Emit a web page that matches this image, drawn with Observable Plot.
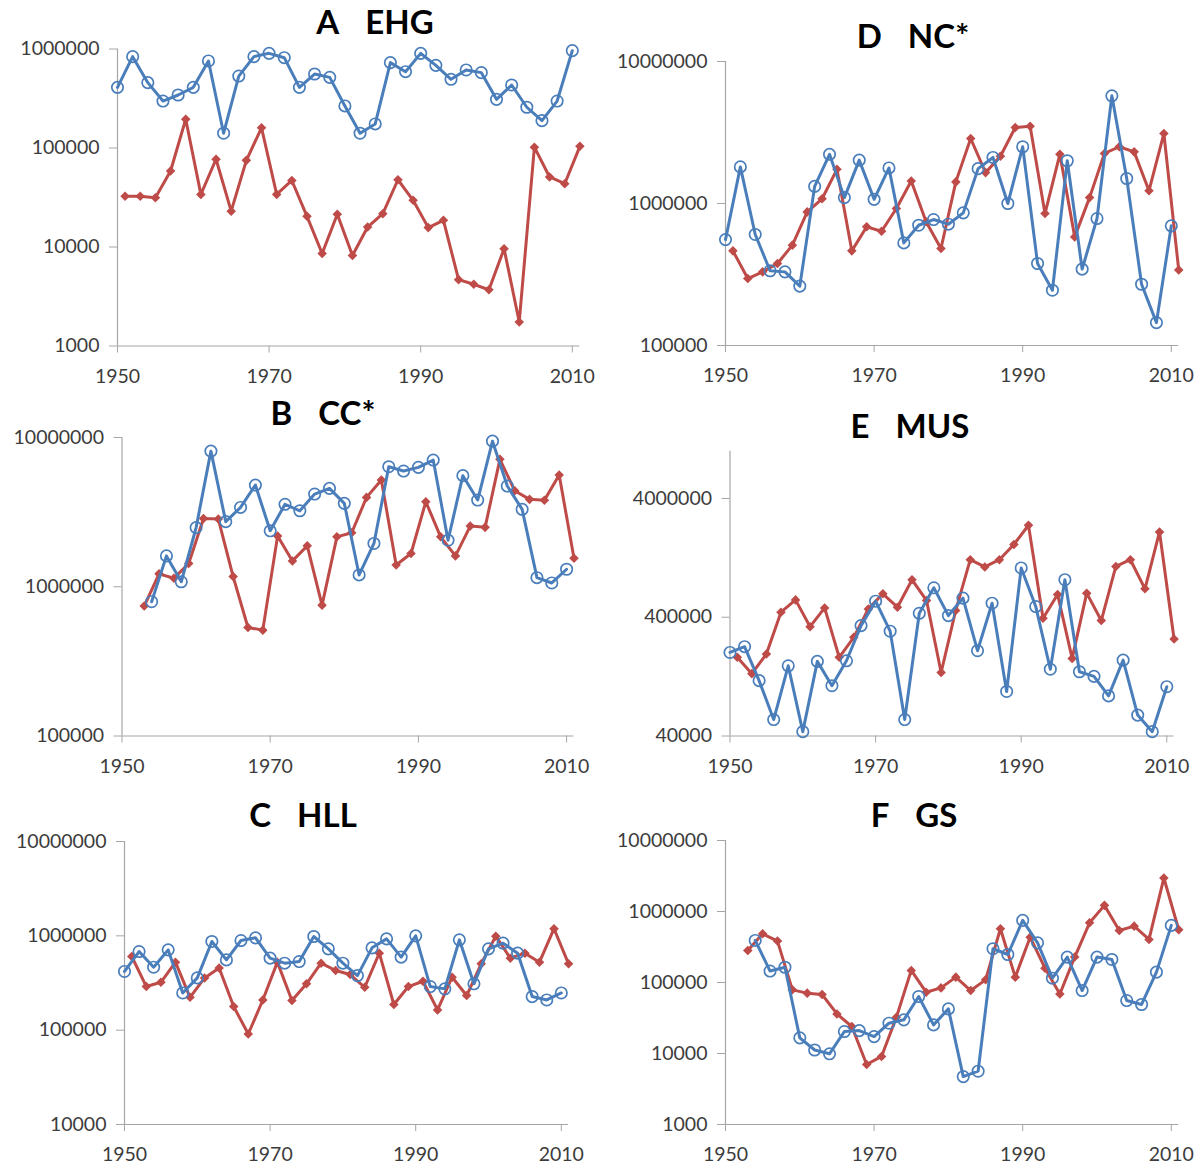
<!DOCTYPE html>
<html>
<head>
<meta charset="utf-8">
<script src="https://cdn.jsdelivr.net/npm/d3@7"></script>
<script src="https://cdn.jsdelivr.net/npm/@observablehq/plot@0.6"></script>
<style>
  body { margin: 0; background: #fff; }
  #chart { position: relative; width: 1200px; height: 1165px; overflow: hidden; background: #fff; font-family: Lato, "Open Sans", sans-serif; }
  .title { position: absolute; font-weight: bold; font-size: 33px; line-height: 1; color: #000; white-space: pre; transform: translateX(-50%); }
  .title .name { margin-left: 26px; }
</style>
</head>
<body>
<div id="chart"></div>
<script>
// Even years carry the blue series, odd years the red one.
const yearsEven1950 = [1950,1952,1954,1956,1958,1960,1962,1964,1966,1968,1970,1972,1974,1976,1978,1980,1982,1984,1986,1988,1990,1992,1994,1996,1998,2000,2002,2004,2006,2008,2010];
const yearsEven1954 = [1954,1956,1958,1960,1962,1964,1966,1968,1970,1972,1974,1976,1978,1980,1982,1984,1986,1988,1990,1992,1994,1996,1998,2000,2002,2004,2006,2008,2010];
const yearsOdd1951 = [1951,1953,1955,1957,1959,1961,1963,1965,1967,1969,1971,1973,1975,1977,1979,1981,1983,1985,1987,1989,1991,1993,1995,1997,1999,2001,2003,2005,2007,2009,2011];
const yearsOdd1953 = [1953,1955,1957,1959,1961,1963,1965,1967,1969,1971,1973,1975,1977,1979,1981,1983,1985,1987,1989,1991,1993,1995,1997,1999,2001,2003,2005,2007,2009,2011];

const xTicks = [1950, 1970, 1990, 2010];

// A  EHG
const ehgBlue = [410000,837000,457000,298000,343000,410000,757000,141000,533000,837000,904000,817000,410000,559000,517000,266000,141000,175000,728000,590000,904000,684000,494000,614000,577000,310000,433000,258000,189000,298000,962000];
const ehgRed = [32500,32500,31500,58600,195000,34000,77000,23000,75000,160000,34000,47000,20400,8600,21400,8200,15900,21700,47800,29600,15700,18600,4680,4200,3700,9600,1750,102000,51000,43600,104000];
const ehgTicks = [1000, 10000, 100000, 1000000];

// B  CC*
const ccBlue = [794000,1610000,1080000,2490000,8100000,2730000,3400000,4800000,2370000,3570000,3230000,4180000,4560000,3620000,1200000,1950000,6370000,5960000,6310000,7060000,2050000,5550000,3810000,9450000,4730000,3300000,1150000,1060000,1310000];
const ccRed = [742000,1220000,1140000,1430000,2870000,2840000,1170000,533000,512000,2190000,1490000,1880000,753000,2160000,2300000,3970000,5190000,1400000,1670000,3710000,2160000,1610000,2550000,2500000,7140000,4400000,3850000,3800000,5610000,1550000];
const ccTicks = [100000, 1000000, 10000000];

// C  HLL
const hllBlue = [419000,682000,465000,710000,248000,358000,871000,556000,892000,952000,580000,513000,534000,984000,728000,513000,379000,746000,929000,594000,1000000,290000,274000,907000,310000,728000,836000,655000,227000,209000,248000];
const hllRed = [604000,290000,322000,526000,223000,358000,457000,178000,91000,209000,526000,206000,310000,513000,429000,389000,285000,655000,187000,290000,330000,164000,364000,233000,505000,992000,580000,655000,526000,1190000,505000];
const hllTicks = [10000, 100000, 1000000, 10000000];

// D  NC*
const ncBlue = [557000,1810000,605000,336000,330000,262000,1320000,2220000,1100000,2020000,1070000,1780000,528000,703000,771000,715000,859000,1760000,2110000,1000000,2510000,378000,245000,2000000,345000,784000,5730000,1500000,270000,145000,696000];
const ncRed = [464000,296000,330000,378000,509000,873000,1080000,1740000,464000,685000,638000,922000,1440000,743000,482000,1420000,2870000,1650000,2150000,3430000,3500000,850000,2220000,582000,1100000,2250000,2510000,2310000,1230000,3110000,340000];
const ncTicks = [100000, 1000000, 10000000];

// E  MUS
const musBlue = [202000,226000,117000,55000,156000,43500,170000,106000,172000,340000,546000,305000,55000,432000,708000,413000,579000,209000,525000,94800,1040000,492000,146000,828000,139000,127000,87000,174000,60000,43500,104000];
const musRed = [184000,134000,196000,441000,560000,333000,479000,184000,271000,470000,630000,486000,828000,553000,137000,455000,1220000,1060000,1220000,1640000,2380000,392000,622000,180000,638000,375000,1070000,1220000,694000,2090000,262000];
const musTicks = [40000, 400000, 4000000];

// F  GS
const gsBlue = [391000,145000,164000,16600,11200,9900,20400,21000,17300,26700,29800,63500,25300,42500,4730,5630,299000,248000,749000,362000,115000,228000,77000,228000,211000,55700,49000,140000,637000];
const gsRed = [283000,485000,383000,78800,70800,67800,36100,24000,7000,9100,32400,148000,73000,84000,119000,77000,109000,571000,119000,435000,159000,69000,228000,693000,1220000,541000,622000,404000,2960000,553000];
const gsTicks = [1000, 10000, 100000, 1000000, 10000000];

const BLUE = "#4a7ebb";
const RED = "#be4b48";
const AXIS = "#a6a6a6";
const LABEL = "#3c3c3c";

// Layout of each panel: column, pixel position of the 1950 axis, pixels per year,
// pixel rows of the top and bottom of the log axis, and the title anchor.
const panels = [
  { letter: "A", name: "EHG", col: 0, x0: 117, ppy: 7.58, yTop: 48.5, yBot: 345.5, yDomain: [1000, 1000000], yTicks: ehgTicks,
    blueYears: yearsEven1950, blue: ehgBlue, redYears: yearsOdd1951, red: ehgRed, titleX: 375, titleY: 10 },
  { letter: "B", name: "CC*", col: 0, x0: 121.5, ppy: 7.41, yTop: 437, yBot: 735.5, yDomain: [100000, 10000000], yTicks: ccTicks,
    blueYears: yearsEven1954, blue: ccBlue, redYears: yearsOdd1953, red: ccRed, titleX: 323, titleY: 401 },
  { letter: "C", name: "HLL", col: 0, x0: 124, ppy: 7.28, yTop: 841, yBot: 1124, yDomain: [10000, 10000000], yTicks: hllTicks,
    blueYears: yearsEven1950, blue: hllBlue, redYears: yearsOdd1951, red: hllRed, titleX: 303, titleY: 803 },
  { letter: "D", name: "NC*", col: 1, x0: 725, ppy: 7.43, yTop: 61, yBot: 345, yDomain: [100000, 10000000], yTicks: ncTicks,
    blueYears: yearsEven1950, blue: ncBlue, redYears: yearsOdd1951, red: ncRed, titleX: 913, titleY: 24 },
  { letter: "E", name: "MUS", col: 1, x0: 729.5, ppy: 7.28, yTop: 450.7, yBot: 735.5, yDomain: [40000, 10000000], yTicks: musTicks,
    blueYears: yearsEven1950, blue: musBlue, redYears: yearsOdd1951, red: musRed, titleX: 910, titleY: 414 },
  { letter: "F", name: "GS", col: 1, x0: 725, ppy: 7.43, yTop: 840, yBot: 1124, yDomain: [1000, 10000000], yTicks: gsTicks,
    blueYears: yearsEven1954, blue: gsBlue, redYears: yearsOdd1953, red: gsRed, titleX: 914, titleY: 803 }
];

const root = document.getElementById("chart");

function drawPanel(p) {
  const svgLeft = p.col * 600;
  const svgTop = Math.round(p.yTop - 20);
  const marginTop = p.yTop - svgTop;
  const marginBottom = 45;
  const height = p.yBot - svgTop + marginBottom;
  const x2011 = p.x0 + 61 * p.ppy;

  const blueRows = p.blueYears.map((year, i) => ({ year, value: p.blue[i] }));
  const redRows = p.redYears.map((year, i) => ({ year, value: p.red[i] }));

  const svg = Plot.plot({
    width: 600,
    height,
    marginLeft: p.x0 - svgLeft,
    marginRight: svgLeft + 600 - x2011,
    marginTop,
    marginBottom,
    style: { fontFamily: "Lato, 'Open Sans', sans-serif", fontSize: "19.5px", background: "transparent", overflow: "visible" },
    x: { domain: [1950, 2011] },
    y: { type: "log", domain: p.yDomain },
    marks: [
      Plot.ruleX([1950], { stroke: AXIS, strokeWidth: 1.2 }),
      Plot.ruleY([p.yDomain[0]], { stroke: AXIS, strokeWidth: 1.2 }),
      Plot.axisX(xTicks, { tickFormat: d => String(d), tickSize: 7, tickPadding: 16, stroke: AXIS, fill: LABEL, label: null }),
      // tick marks of the value axis; its labels are written by the text mark below
      Plot.axisY(p.yTicks, { tickFormat: () => "", tickSize: 8, stroke: AXIS, label: null }),
      Plot.text(p.yTicks, { y: d => d, text: d => String(d), frameAnchor: "left", textAnchor: "end", dx: -18, fill: LABEL }),
      Plot.line(redRows, { x: "year", y: "value", stroke: RED, strokeWidth: 3, strokeLinejoin: "round" }),
      Plot.dot(redRows, { x: "year", y: "value", symbol: "diamond2", r: 4.3, fill: RED }),
      Plot.line(blueRows, { x: "year", y: "value", stroke: BLUE, strokeWidth: 3, strokeLinejoin: "round" }),
      Plot.dot(blueRows, { x: "year", y: "value", symbol: "circle", r: 5.7, stroke: BLUE, strokeWidth: 1.7, fill: "none" })
    ]
  });
  svg.style.position = "absolute";
  svg.style.left = svgLeft + "px";
  svg.style.top = svgTop + "px";
  root.appendChild(svg);

  const title = document.createElement("div");
  title.className = "title";
  title.style.left = p.titleX + "px";
  title.style.top = (p.titleY - 5) + "px";
  const letter = document.createElement("span");
  letter.textContent = p.letter;
  const name = document.createElement("span");
  name.className = "name";
  name.textContent = p.name;
  title.appendChild(letter);
  title.appendChild(name);
  root.appendChild(title);
}

panels.forEach(drawPanel);
</script>
</body>
</html>
